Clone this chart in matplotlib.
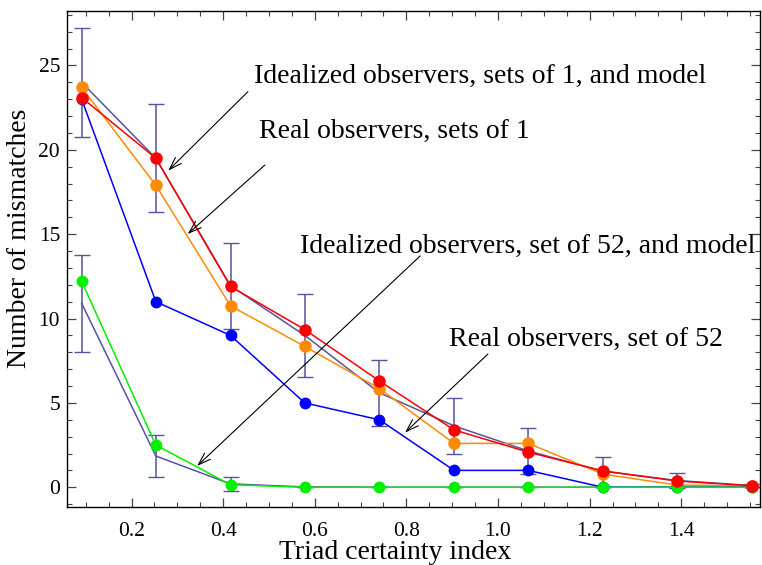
import matplotlib
matplotlib.use("Agg")
import matplotlib.pyplot as plt
import matplotlib.ticker as mtick

plt.rcParams['font.family'] = ['Liberation Serif', 'DejaVu Serif']

# === Data ===
x = [0.091, 0.253, 0.416, 0.578, 0.741, 0.904, 1.066, 1.229, 1.391, 1.554]

ideal_1 = [23.1, 19.5, 11.9, 9.35, 6.3, 3.4, 2.08, 0.97, 0.37, 0.09]      # red
real_1 = [23.7, 17.9, 10.75, 8.35, 5.85, 2.6, 2.6, 0.78, 0.13, 0.08]      # orange
model_1 = [24.0, 19.5, 11.95, 9.0, 5.6, 3.64, 2.15, 0.95, 0.4, 0.1]       # slate line
model_1_err = [3.25, 3.2, 2.55, 2.45, 1.95, 1.67, 1.38, 0.86, 0.47, 0.1]

real_52 = [23.0, 11.0, 9.0, 5.0, 4.0, 1.0, 1.0, 0.0, 0.0, 0.0]            # blue
ideal_52 = [12.2, 2.5, 0.15, 0.0, 0.0, 0.0, 0.0, 0.0, 0.0, 0.0]           # green
model_52 = [10.9, 1.85, 0.2, 0.02, 0.0, 0.0, 0.0, 0.0, 0.0, 0.0]          # slate line
model_52_err = [2.87, 1.25, 0.4, 0.0, 0.0, 0.0, 0.0, 0.0, 0.0, 0.0]

# annotation texts: (label, text anchor, arrow tail, arrow tip)
notes = [
    ("Idealized observers, sets of 1, and model", (0.468, 23.95), (0.454, 23.45), (0.280, 18.77)),
    ("Real observers, sets of 1", (0.479, 20.69), (0.491, 19.10), (0.3225, 15.01)),
    ("Idealized observers, set of 52, and model", (0.568, 13.89), (0.830, 13.71), (0.343, 1.26)),
    ("Real observers, set of 52", (0.893, 8.38), (0.978, 7.90), (0.797, 3.24)),
]

slate = '#5454a2'

# === Plot ===
fig = plt.figure(figsize=(7.62, 5.65), dpi=100)
ax = fig.add_axes([67 / 762, 1 - 507 / 565, 693 / 762, 496 / 565])

ax.errorbar(x, model_1, yerr=model_1_err, color=slate, lw=1.1, capsize=5.5,
            capthick=1.0, elinewidth=1.1, zorder=2)
ax.errorbar(x, model_52, yerr=model_52_err, color=slate, lw=1.1, capsize=5.5,
            capthick=1.0, elinewidth=1.1, zorder=2)

ax.plot(x, real_1, color='#ff8c00', lw=1.1, marker='o', ms=9, mec='none', zorder=3)
ax.plot(x, real_52, color='#0000ff', lw=1.1, marker='o', ms=8.5, mec='none', zorder=4)
ax.plot(x, ideal_52, color='#00f000', lw=1.1, marker='o', ms=8.5, mec='none', zorder=5)
ax.plot(x, ideal_1, color='#ff0000', lw=1.1, marker='o', ms=9, mec='none', zorder=6)

for label, txt_pos, tail, tip in notes:
    ax.text(txt_pos[0], txt_pos[1], label, fontsize=20, ha='left', va='baseline',
            zorder=8)
    ax.annotate('', xy=tip, xytext=tail,
                arrowprops=dict(arrowstyle='->,head_length=0.9,head_width=0.3',
                                color='black', lw=0.8, shrinkA=0, shrinkB=0),
                zorder=8)

ax.set_xlim(0.059, 1.572)
ax.set_ylim(-1.17, 28.23)

ax.xaxis.set_major_locator(mtick.MultipleLocator(0.2))
ax.xaxis.set_minor_locator(mtick.MultipleLocator(0.05))
ax.xaxis.set_major_formatter(mtick.FormatStrFormatter('%.1f'))
ax.yaxis.set_major_locator(mtick.MultipleLocator(5))
ax.yaxis.set_minor_locator(mtick.MultipleLocator(1))

ax.tick_params(which='both', direction='in', top=True, right=True,
               color='#444444', labelsize=15.5)
ax.tick_params(which='major', length=6.3, width=0.9)
ax.tick_params(which='minor', length=3.6, width=0.8)
ax.tick_params(axis='x', pad=11)
ax.tick_params(axis='y', pad=5)

for sp in ax.spines.values():
    sp.set_linewidth(1.0)
    sp.set_color('black')

ax.set_xlabel('Triad certainty index', fontsize=20)
ax.xaxis.set_label_coords(0.473, -0.066)
ax.set_ylabel('Number of mismatches', fontsize=20)
ax.yaxis.set_label_coords(-0.05, 0.542)

fig.savefig('out.png', dpi=100)
